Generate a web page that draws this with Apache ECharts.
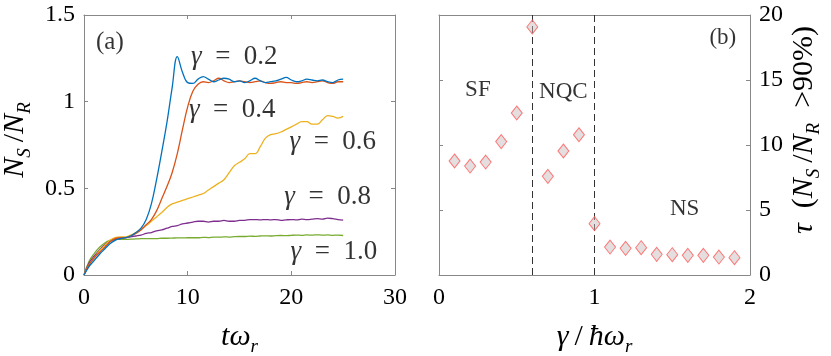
<!DOCTYPE html>
<html>
<head>
<meta charset="utf-8">
<script src="https://cdn.jsdelivr.net/npm/echarts@6/dist/echarts.min.js"></script>
<style>
  html, body { margin: 0; padding: 0; background: #fff; }
  #main { width: 831px; height: 356px; }
</style>
</head>
<body>
<div id="main"></div>
<script>
// (a) N_S/N_R vs t*omega_r, sampled every 0.5
var tValues = [];
for (var k = 0; k <= 50; k++) tValues.push(k * 0.5);

var gammaNames = ['0.2', '0.4', '0.6', '0.8', '1.0'];
var lineColors = ['#0072BD', '#D95319', '#EDB120', '#7E2F8E', '#77AC30'];

var ns02 = [0, 0.05, 0.085, 0.12, 0.15, 0.18, 0.2, 0.21, 0.215, 0.225, 0.245, 0.27, 0.32, 0.41, 0.55, 0.71,
  0.88, 1.08, 1.26, 1.17, 1.11, 1.105, 1.13, 1.145, 1.13, 1.115, 1.125, 1.135, 1.13, 1.115, 1.12, 1.11,
  1.12, 1.135, 1.12, 1.11, 1.115, 1.12, 1.13, 1.14, 1.125, 1.115, 1.12, 1.13, 1.125, 1.12, 1.125, 1.115,
  1.11, 1.125, 1.13];
var ns04 = [0, 0.06, 0.1, 0.13, 0.16, 0.19, 0.21, 0.215, 0.215, 0.225, 0.24, 0.26, 0.29, 0.32, 0.37, 0.44,
  0.51, 0.59, 0.7, 0.84, 0.97, 1.06, 1.1, 1.115, 1.11, 1.12, 1.135, 1.12, 1.11, 1.115, 1.12, 1.115,
  1.11, 1.115, 1.12, 1.11, 1.105, 1.11, 1.115, 1.11, 1.11, 1.105, 1.11, 1.115, 1.11, 1.115, 1.12, 1.11,
  1.105, 1.115, 1.115];
var ns06 = [0, 0.06, 0.1, 0.14, 0.17, 0.2, 0.215, 0.22, 0.22, 0.23, 0.245, 0.265, 0.285, 0.31, 0.335, 0.36,
  0.39, 0.41, 0.42, 0.43, 0.44, 0.45, 0.46, 0.47, 0.49, 0.51, 0.53, 0.55, 0.59, 0.63, 0.65, 0.67,
  0.7, 0.7, 0.74, 0.79, 0.81, 0.815, 0.825, 0.84, 0.855, 0.87, 0.885, 0.885, 0.87, 0.87, 0.895, 0.92,
  0.915, 0.905, 0.915];
var ns08 = [0, 0.07, 0.11, 0.145, 0.175, 0.195, 0.205, 0.21, 0.215, 0.22, 0.225, 0.23, 0.24, 0.245, 0.255, 0.26,
  0.27, 0.28, 0.285, 0.295, 0.3, 0.305, 0.31, 0.31, 0.305, 0.31, 0.31, 0.315, 0.31, 0.31, 0.315, 0.315,
  0.32, 0.32, 0.318, 0.32, 0.318, 0.32, 0.315, 0.318, 0.32, 0.318, 0.322, 0.32, 0.322, 0.325, 0.322, 0.328,
  0.325, 0.32, 0.316];
var ns10 = [0, 0.08, 0.125, 0.16, 0.185, 0.2, 0.205, 0.205, 0.205, 0.207, 0.208, 0.21, 0.21, 0.21, 0.21, 0.212,
  0.212, 0.213, 0.214, 0.214, 0.215, 0.215, 0.215, 0.217, 0.216, 0.218, 0.218, 0.22, 0.219, 0.221, 0.222, 0.222,
  0.224, 0.223, 0.225, 0.226, 0.225, 0.227, 0.228, 0.227, 0.229, 0.23, 0.229, 0.231, 0.23, 0.232, 0.23, 0.231,
  0.229, 0.23, 0.228];
var nsSeries = [ns02, ns04, ns06, ns08, ns10];

// curve labels: [t, value]
var curveLabelPos = [[14.5, 1.256], [14.3, 0.95], [24.0, 0.77], [23.5, 0.448], [24.1, 0.131]];

// (b) tau(N_S/N_R > 90%) vs gamma/(hbar omega_r)
var gammaValues = [0.1, 0.2, 0.3, 0.4, 0.5, 0.6, 0.7, 0.8, 0.9, 1.0, 1.1, 1.2, 1.3, 1.4, 1.5, 1.6, 1.7, 1.8, 1.9];
var tauValues = [8.77, 8.38, 8.69, 10.26, 12.46, 19.08, 7.59, 9.54, 10.79, 3.95, 2.15, 2.05, 2.1, 1.59, 1.56, 1.51, 1.51, 1.38, 1.33];
var phaseBounds = [0.6, 1.0];
var phaseNames = ['SF', 'NQC', 'NS'];
var phasePos = [[0.25, 14.2], [0.8, 14.05], [1.58, 5.05]];

var serif = 'Liberation Serif';
var axisGrey = '#888888';

function frameAxis(extra) {
  var base = {
    axisLine: { show: true, onZero: false, lineStyle: { color: axisGrey, width: 1 } },
    axisTick: { show: true, inside: true, length: 4, lineStyle: { color: axisGrey } },
    axisLabel: { show: false },
    splitLine: { show: false }
  };
  for (var key in extra) base[key] = extra[key];
  return base;
}

var tickLabel = { show: true, fontFamily: serif, fontSize: 24, color: '#000' };
function withMargin(m) {
  var o = {};
  for (var key in tickLabel) o[key] = tickLabel[key];
  o.margin = m;
  return o;
}
var subRich = {
  i: { fontFamily: serif, fontStyle: 'italic', fontSize: 30, lineHeight: 38, color: '#000' },
  u: { fontFamily: serif, fontSize: 30, lineHeight: 38, color: '#000' },
  s: { fontFamily: serif, fontStyle: 'italic', fontSize: 19, verticalAlign: 'bottom', color: '#000' }
};

var lineSeries = nsSeries.map(function (vals, idx) {
  return {
    name: 'gamma=' + gammaNames[idx],
    type: 'line',
    xAxisIndex: 0, yAxisIndex: 0,
    data: tValues.map(function (t, j) { return [t, vals[j]]; }),
    smooth: 0.4,
    showSymbol: false,
    lineStyle: { color: lineColors[idx], width: 1.3 },
    z: 10 - idx
  };
});

var gammaLabelSeries = {
  type: 'scatter',
  xAxisIndex: 0, yAxisIndex: 0,
  symbolSize: 0,
  silent: true,
  data: curveLabelPos.map(function (p, idx) { return [p[0], p[1], gammaNames[idx]]; }),
  label: {
    show: true, position: 'inside',
    formatter: function (p) { return '{g|γ}{n|  =  ' + p.value[2] + '}'; },
    rich: {
      g: { fontFamily: serif, fontStyle: 'italic', fontSize: 27, color: '#000' },
      n: { fontFamily: serif, fontSize: 27, color: '#000' }
    }
  }
};

var panelTagSeries = {
  type: 'scatter', symbolSize: 0, silent: true,
  xAxisIndex: 0, yAxisIndex: 0,
  data: [[2.5, 1.343, '(a)']],
  label: { show: true, position: 'inside', formatter: function (p) { return p.value[2]; },
    fontFamily: serif, fontSize: 25, color: '#000' }
};

var tauSeries = {
  type: 'scatter',
  xAxisIndex: 2, yAxisIndex: 2,
  data: gammaValues.map(function (g, j) { return [g, tauValues[j]]; }),
  symbol: 'diamond',
  symbolSize: [11, 14],
  itemStyle: { color: 'rgba(200,185,188,0.6)', borderColor: '#ff5a5a', borderWidth: 1 },
  z: 5,
  markLine: {
    silent: true, symbol: 'none',
    label: { show: false },
    lineStyle: { color: '#333', type: [7, 4], width: 1 },
    data: phaseBounds.map(function (b) { return { xAxis: b }; })
  }
};

var phaseSeries = {
  type: 'scatter', symbolSize: 0, silent: true,
  xAxisIndex: 2, yAxisIndex: 2,
  data: phasePos.map(function (p, idx) { return [p[0], p[1], phaseNames[idx]]; })
    .concat([[1.825, 18.2, '(b)']]),
  label: { show: true, position: 'inside', formatter: function (p) { return p.value[2]; },
    fontFamily: serif, fontSize: 23, color: '#000' }
};

var chart = echarts.init(document.getElementById('main'), null, { renderer: 'canvas' });
chart.setOption({
  backgroundColor: '#fff',
  animation: false,
  grid: [
    { left: 84, top: 15, width: 311, height: 260, containLabel: false, outerBoundsMode: 'none' },
    { left: 439, top: 15, width: 311, height: 260, containLabel: false, outerBoundsMode: 'none' }
  ],
  xAxis: [
    frameAxis({
      type: 'value', gridIndex: 0, min: 0, max: 30, interval: 10, position: 'bottom',
      axisLabel: withMargin(11),
      name: '{i|tω}{s|r}', nameLocation: 'middle', nameGap: 43,
      nameTextStyle: { rich: subRich }
    }),
    frameAxis({ type: 'value', gridIndex: 0, min: 0, max: 30, interval: 10, position: 'top' }),
    frameAxis({
      type: 'value', gridIndex: 1, min: 0, max: 2, interval: 1, position: 'bottom',
      axisLabel: withMargin(11),
      name: '{i|γ}{u|\u2009/\u2009}{i|ħω}{s|r}', nameLocation: 'middle', nameGap: 43,
      nameTextStyle: { rich: subRich }
    }),
    frameAxis({ type: 'value', gridIndex: 1, min: 0, max: 2, interval: 1, position: 'top' })
  ],
  yAxis: [
    frameAxis({
      type: 'value', gridIndex: 0, min: 0, max: 1.5, interval: 0.5, position: 'left',
      axisLabel: withMargin(9),
      name: '{i|N}{s|S}{u|\u2009/}{i|N}{s|R}', nameLocation: 'middle', nameGap: 50, nameRotate: 90,
      nameTextStyle: { rich: subRich, padding: [0, 0, 0, 10] }
    }),
    frameAxis({ type: 'value', gridIndex: 0, min: 0, max: 1.5, interval: 0.5, position: 'right' }),
    frameAxis({
      type: 'value', gridIndex: 1, min: 0, max: 20, interval: 5, position: 'right',
      axisLabel: withMargin(9),
      name: '{i|τ}{u|  (}{i|N}{s|S}{u|\u2009/}{i|N}{s|R}{u|  >90%)}', nameLocation: 'middle', nameGap: 35, nameRotate: 90,
      nameTextStyle: { rich: subRich, padding: [0, 0, 0, 30] }
    }),
    frameAxis({ type: 'value', gridIndex: 1, min: 0, max: 20, interval: 5, position: 'left' })
  ],
  series: lineSeries.concat([gammaLabelSeries, panelTagSeries, tauSeries, phaseSeries])
});
</script>
</body>
</html>
